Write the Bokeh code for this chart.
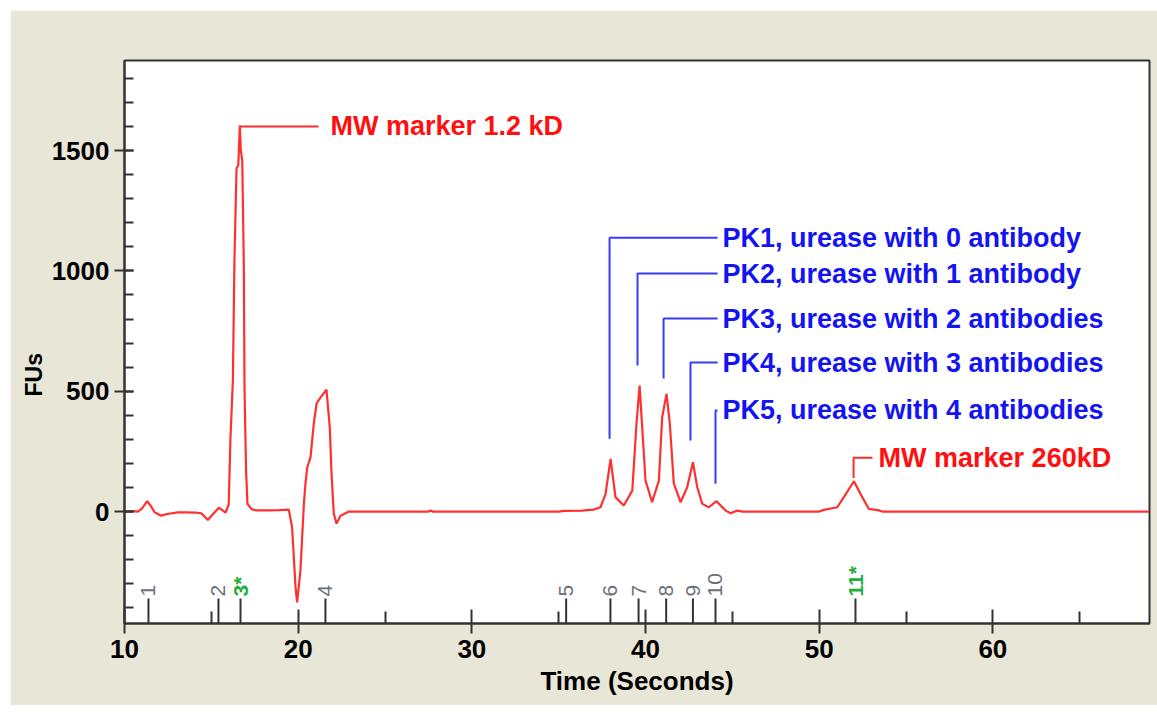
import math
from bokeh.plotting import figure
from bokeh.models import FixedTicker, ColumnDataSource, Range1d, Title
from bokeh.core.properties import value
from bokeh.embed import file_html
from bokeh.resources import INLINE

# ---------------- data ----------------
trace_time = [10.0, 10.5, 10.77, 11.0, 11.31, 11.5, 11.73, 12.11, 12.46, 13.07, 13.5, 14.1,
              14.42, 14.8, 15.1, 15.43, 15.65, 15.82, 16.0, 16.10, 16.24, 16.33, 16.45,
              16.55, 16.64, 16.70, 16.78, 16.87, 16.91, 17.0, 17.08, 17.31, 17.6, 18.4,
              18.9, 19.46, 19.65, 19.85, 19.94, 20.13, 20.33, 20.42, 20.52, 20.71, 20.90,
              21.06, 21.25, 21.63, 21.82, 21.92, 22.05, 22.21, 22.44, 22.92, 27.5, 27.62,
              27.75, 35.0, 35.3, 36.36, 37.0, 37.41, 37.70, 37.99, 38.27, 38.75, 39.24,
              39.48, 39.66, 39.81, 40.0, 40.38, 40.77, 40.96, 41.21, 41.40, 41.63, 42.02,
              42.40, 42.73, 42.98, 43.27, 43.65, 44.09, 44.61, 44.90, 45.28, 45.6, 50.0,
              50.27, 51.04, 51.42, 52.0, 52.48, 52.86, 53.44, 53.63, 69.0]
trace_fu = [0, 2, 0, 12, 43, 25, -3, -17, -10, -3, -3, -4,
            -7, -35, -10, 16, 5, -4, 30, 303, 544, 1043, 1425,
            1440, 1604, 1500, 1458, 1030, 515, 170, 33, 10, 5, 5,
            6, 8, -65, -315, -377, -245, 33, 116, 183, 225, 365,
            449, 470, 507, 350, 158, -8, -50, -17, 0, 0, 5,
            0, 0, 3, 4, 8, 18, 74, 219, 60, 25, 87,
            365, 523, 350, 129, 39, 129, 392, 489, 365, 116, 39,
            101, 205, 101, 32, 18, 43, 4, -7, 4, 0, 0,
            7, 18, 60, 126, 60, 11, 5, 0, 0]

marker_time = [11.38, 15.41, 16.68, 21.57, 35.43, 37.98, 39.60, 41.19, 42.73, 44.03, 52.09]
marker_label = ["1", "2", "3*", "4", "5", "6", "7", "8", "9", "10", "11*"]

ann_text = ["MW marker 1.2 kD",
            "PK1, urease with 0 antibody",
            "PK2, urease with 1 antibody",
            "PK3, urease with 2 antibodies",
            "PK4, urease with 3 antibodies",
            "PK5, urease with 4 antibodies",
            "MW marker 260kD"]
ann_peak_time = [16.62, 37.93, 39.54, 41.04, 42.59, 44.03, 51.98]
ann_peak_fu = [1600, 303, 607, 553, 295, 116, 140]
ann_level_fu = [1600, 1138, 989, 802, 619, 420, 224]
ann_leader_end = [21.17, 44.15, 44.15, 44.15, 44.15, 44.15, 53.07]
ann_text_time = [21.86, 44.43, 44.43, 44.43, 44.43, 44.43, 53.42]
ann_kind = ["marker", "peak", "peak", "peak", "peak", "peak", "marker"]

x_major = [10, 20, 30, 40, 50, 60]
x_minor = [15, 25, 35, 45, 55, 65]
y_major = [0, 500, 1000, 1500]
y_minor = list(range(-400, 1900, 100))

# ---------------- figure ----------------
FONT = "Liberation Sans"
BEIGE = "#E8E7D7"
AX = "#333333"

p = figure(frame_width=1025, frame_height=563,
           x_range=Range1d(10, 69.02), y_range=Range1d(-465, 1874),
           output_backend="svg", toolbar_location=None,
           min_border_left=114, min_border_right=8, min_border_top=50, min_border_bottom=82,
           background_fill_color="white", border_fill_color=BEIGE,
           outline_line_color=AX, outline_line_width=2,
           margin=(10, 0, 0, 10))
p.grid.visible = False

p.xaxis.ticker = FixedTicker(ticks=x_major, minor_ticks=x_minor)
p.yaxis.ticker = FixedTicker(ticks=y_major, minor_ticks=y_minor)
for ax in (p.xaxis, p.yaxis):
    ax.axis_line_color = AX
    ax.axis_line_width = 2
    ax.major_tick_line_color = AX
    ax.major_tick_line_width = 2
    ax.minor_tick_line_color = AX
    ax.minor_tick_line_width = 2
    ax.major_label_text_font = FONT
    ax.major_label_text_font_style = "bold"
    ax.major_label_text_color = "black"
    ax.axis_label_text_font = FONT
    ax.axis_label_text_font_style = "bold"
    ax.axis_label_text_color = "black"
    ax.minor_tick_out = 0

p.xaxis.major_tick_in = 14
p.xaxis.major_tick_out = 10
p.xaxis.minor_tick_in = 12
p.xaxis.major_label_text_font_size = "26px"
p.xaxis.axis_label = "Time (Seconds)"
p.xaxis.axis_label_text_font_size = "26px"
p.xaxis.axis_label_standoff = 5
p.xaxis.major_label_standoff = 6

p.yaxis.major_tick_in = 9
p.yaxis.major_tick_out = 10
p.yaxis.minor_tick_in = 9
p.yaxis.major_label_text_font_size = "26px"
p.yaxis.major_label_standoff = 5

# y-axis title as a left-side title, placed below the frame centre as in the original
p.add_layout(Title(text="FUs", align="left", offset=227, standoff=4,
                   text_font=FONT, text_font_style="bold", text_font_size="23px",
                   text_color="black"), "left")

# trace
p.line(trace_time, trace_fu, line_color="#ff3030", line_width=2.2)

# peak markers along the bottom
ymin = p.y_range.start
mark_top = -361
p.segment(x0=marker_time, y0=[ymin] * len(marker_time), x1=marker_time,
          y1=[mark_top] * len(marker_time), line_color=AX, line_width=2)

std_idx = [i for i, l in enumerate(marker_label) if l.endswith("*")]
oth_idx = [i for i, l in enumerate(marker_label) if not l.endswith("*")]
src_oth = ColumnDataSource(dict(x=[marker_time[i] for i in oth_idx],
                                y=[mark_top + 8] * len(oth_idx),
                                t=[marker_label[i] for i in oth_idx]))
src_std = ColumnDataSource(dict(x=[marker_time[i] for i in std_idx],
                                y=[mark_top + 8] * len(std_idx),
                                t=[marker_label[i] for i in std_idx]))
p.text(x="x", y="y", text="t", source=src_oth, angle=math.pi / 2,
       text_align="left", text_baseline="middle", text_color="#6e7178",
       text_font=value(FONT), text_font_size="21px")
p.text(x="x", y="y", text="t", source=src_std, angle=math.pi / 2,
       text_align="left", text_baseline="middle", text_color="#1fae3c",
       text_font=value(FONT), text_font_size="21px", text_font_style="bold")

# annotations
for i in range(len(ann_text)):
    col_line = "#ff2a2a" if ann_kind[i] == "marker" else "#3a3aff"
    col_text = "#ff1010" if ann_kind[i] == "marker" else "#1414f0"
    p.line([ann_peak_time[i], ann_peak_time[i], ann_leader_end[i]],
           [ann_peak_fu[i], ann_level_fu[i], ann_level_fu[i]],
           line_color=col_line, line_width=2)
    p.text(x=[ann_text_time[i]], y=[ann_level_fu[i]], text=[ann_text[i]],
           text_align="left", text_baseline="middle", text_color=col_text,
           text_font=value(FONT), text_font_size="27px", text_font_style="bold")

open("out.html", "w").write(file_html(p, INLINE))
